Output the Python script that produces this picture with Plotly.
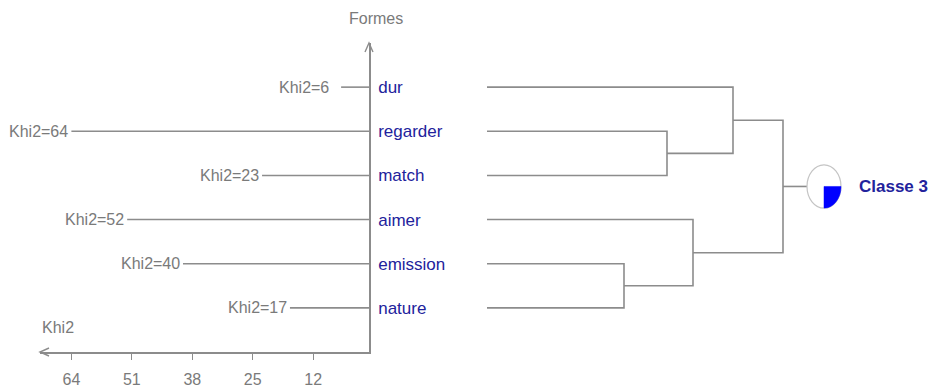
import plotly.graph_objects as go

# ---- data ----
words = ["dur", "regarder", "match", "aimer", "emission", "nature"]
khi2 = [6, 64, 23, 52, 40, 17]
khi2_ticks = [64, 51, 38, 25, 12]
# dendrogram merges: (left node, right node, height)
merges = [
    ("emission", "nature", 13.7),
    ("regarder", "match", 18.0),
    ("aimer", "emission+nature", 20.6),
    ("dur", "regarder+match", 24.6),
    ("dur+regarder+match", "aimer+emission+nature", 29.6),
]
class_label = "Classe 3"

GRAY_TXT = "#7a7a7a"
GRAY_LINE = "#8c8c8c"
BLUE_TXT = "#22229c"
FONT = "Liberation Sans, Arial, sans-serif"

# the page body adds an 8px margin, so the figure is a bit smaller than the window
OFF = 8
W, H = 937 - OFF, 392 - OFF


def px(x):
    return (x - OFF) / W


def py(y):
    return 1 - (y - OFF) / H


rows = {w: len(words) - i for i, w in enumerate(words)}  # dur=6 ... nature=1

fig = go.Figure()

# ---- Khi2 bars (horizontal lines to the vertical axis) ----
bx, by = [], []
for w, k in zip(words, khi2):
    bx += [k, 0, None]
    by += [rows[w], rows[w], None]
fig.add_trace(go.Scatter(x=bx, y=by, mode="lines", xaxis="x", yaxis="y",
                         line=dict(color=GRAY_LINE, width=1.6), hoverinfo="skip"))

for w, k in zip(words, khi2):
    fig.add_annotation(x=max(k, 8), y=rows[w], xref="x", yref="y",
                       text=f"Khi2={k}", showarrow=False, xanchor="right",
                       xshift=-1, font=dict(color=GRAY_TXT, size=16, family=FONT))

# ---- dendrogram ----
node_y = dict(rows)
node_h = {w: 0 for w in words}
dx, dy = [], []
for a, b, h in merges:
    ya, yb = node_y[a], node_y[b]
    dx += [node_h[a], h, h, node_h[b], None]
    dy += [ya, ya, yb, yb, None]
    name = a + "+" + b
    node_y[name] = (ya + yb) / 2
    node_h[name] = h
root = merges[-1][0] + "+" + merges[-1][1]
root_y = node_y[root]
root_h = node_h[root]
stem = root_h + 2.4
dx += [root_h, stem]
dy += [root_y, root_y]
fig.add_trace(go.Scatter(x=dx, y=dy, mode="lines", xaxis="x2", yaxis="y",
                         line=dict(color=GRAY_LINE, width=1.6), hoverinfo="skip"))

# class icon (ellipse with a filled quarter)
rx, ry = 1.7, 0.49
cx = stem + rx
fig.add_shape(type="circle", xref="x2", yref="y", x0=stem, x1=stem + 2 * rx,
              y0=root_y - ry, y1=root_y + ry, line=dict(color="#c4c4c4", width=1.2))
kq = 0.5523
fig.add_shape(type="path", xref="x2", yref="y",
              path=(f"M {cx},{root_y} L {cx + rx},{root_y} "
                    f"C {cx + rx},{root_y - kq * ry} {cx + kq * rx},{root_y - ry} {cx},{root_y - ry} Z"),
              fillcolor="#0000ff", line=dict(color="#0000ff", width=0.5))
fig.add_annotation(x=cx + rx, y=root_y, xref="x2", yref="y", text=f"<b>{class_label}</b>",
                   showarrow=False, xanchor="left", xshift=16,
                   font=dict(color=BLUE_TXT, size=17, family=FONT))

# ---- axis titles and arrowheads ----
fig.add_annotation(x=0, y=7, xref="x", yref="y", text="Formes", showarrow=False,
                   yanchor="bottom", xshift=7, yshift=14,
                   font=dict(color=GRAY_TXT, size=16, family=FONT))
x_left = 70.75
fig.add_annotation(x=x_left, y=0, xref="x", yref="y", text="Khi2", showarrow=False,
                   xanchor="left", yshift=25, font=dict(color=GRAY_TXT, size=16, family=FONT))
fig.add_shape(type="path", xref="paper", yref="paper", xsizemode="pixel", ysizemode="pixel",
              xanchor=px(369), yanchor=py(43), path="M -4,-9 L 0,0 L 4,-9",
              line=dict(color=GRAY_LINE, width=1.4))
fig.add_shape(type="path", xref="paper", yref="paper", xsizemode="pixel", ysizemode="pixel",
              xanchor=px(40), yanchor=py(352), path="M 9,4 L 0,0 L 9,-4",
              line=dict(color=GRAY_LINE, width=1.4))

fig.update_layout(
    width=W, height=H,
    margin=dict(l=0, r=0, t=0, b=0, autoexpand=False),
    plot_bgcolor="white", paper_bgcolor="white",
    showlegend=False,
    xaxis=dict(domain=[px(40), px(369)], range=[x_left, 0], anchor="y", automargin=False,
               showgrid=False, zeroline=False, showline=True, linecolor=GRAY_LINE, linewidth=1.6,
               tickvals=khi2_ticks, ticks="outside", ticklen=6, tickcolor=GRAY_LINE, tickwidth=1.4,
               ticklabelstandoff=6,
               tickfont=dict(color=GRAY_TXT, size=16, family=FONT)),
    xaxis2=dict(domain=[px(487), 1], range=[0, 45 * (937 - 487) / 450], anchor="y",
                visible=False, automargin=False),
    yaxis=dict(domain=[py(352), py(43)], range=[0, 7], anchor="x", side="right",
               automargin=False,
               showgrid=False, zeroline=False, showline=True, linecolor=GRAY_LINE, linewidth=1.6,
               tickvals=[rows[w] for w in words], ticktext=words, ticks="", ticklabelstandoff=4,
               tickfont=dict(color=BLUE_TXT, size=17, family=FONT)),
)

fig.write_html("out.html")
